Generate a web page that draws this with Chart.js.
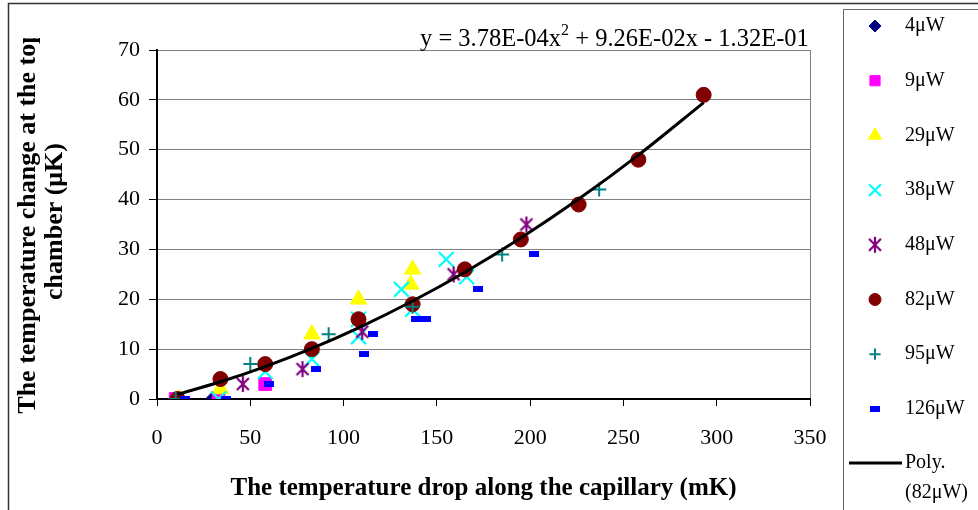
<!DOCTYPE html>
<html>
<head>
<meta charset="utf-8">
<script src="https://cdn.jsdelivr.net/npm/chart.js@4.4.1/dist/chart.umd.min.js"></script>
<style>
html, body { margin: 0; padding: 0; background: #fff; }
</style>
</head>
<body>
<canvas id="chart" width="978" height="510"></canvas>
<script>
// data
const seriesNames = ['4μW', '9μW', '29μW', '38μW', '48μW', '82μW', '95μW', '126μW'];

const x4 = [11, 30];
const y4 = [0, 0];
const x9 = [10, 33, 58];
const y9 = [0, 0, 3];
const x29 = [12, 34, 83, 108, 136, 137];
const y29 = [0, 2, 13, 20, 23, 26];
const x38 = [33, 58, 83, 108, 108, 131, 137, 155, 166];
const y38 = [0, 5.5, 8, 16, 12.5, 22, 18, 28, 24.5];
const x48 = [46, 78, 110, 159, 198];
const y48 = [3, 6, 13.5, 25, 35];
const x82 = [11, 34, 58, 83, 108, 137, 165, 195, 226, 258, 293];
const y82 = [0, 4, 7, 10, 16, 19, 26, 32, 39, 48, 61];
const x95 = [10, 50, 92, 137, 185, 237];
const y95 = [0, 7, 13, 18.5, 29, 42];
const x126 = [15, 37, 60, 85, 111, 116, 139, 144, 172, 202];
const y126 = [0, 0, 3, 6, 9, 13, 16, 16, 22, 29];

// trendline of the 82μW series, as printed on the chart
const polyCoef = [3.78e-4, 9.26e-2, -1.32e-1];
const polyLabel = ['Poly.', '(82μW)'];

const xTicks = [0, 50, 100, 150, 200, 250, 300, 350];
const yTicks = [0, 10, 20, 30, 40, 50, 60, 70];

const xTitle = 'The temperature drop along the capillary (mK)';
const yTitle = ['The temperature change at the top', 'chamber (μK)'];

const serif = "'Liberation Serif', 'Times New Roman', serif";

function pts(xs, ys) {
    return xs.map((x, i) => ({ x: x, y: ys[i] }));
}

// markers that chart.js does not have
function asteriskMarker(color) {
    const c = document.createElement('canvas');
    c.width = 18; c.height = 18;
    const g = c.getContext('2d');
    g.strokeStyle = color;
    g.lineWidth = 2.2;
    g.beginPath();
    g.moveTo(3, 3); g.lineTo(15, 15);
    g.moveTo(15, 3); g.lineTo(3, 15);
    g.moveTo(9, 1); g.lineTo(9, 17);
    g.stroke();
    return c;
}
function dashMarker(color) {
    const c = document.createElement('canvas');
    c.width = 10; c.height = 6;
    const g = c.getContext('2d');
    g.fillStyle = color;
    g.fillRect(0, 0, 10, 6);
    return c;
}

function eqNum(v) {
    // 3.78e-4 -> 3.78E-04
    return Math.abs(v).toExponential(2).toUpperCase().replace(/E([+-])(\d)$/, 'E$10$2');
}

const polyData = x82.map(x => ({ x: x, y: polyCoef[0] * x * x + polyCoef[1] * x + polyCoef[2] }));

const datasets = [
    { label: seriesNames[0], data: pts(x4, y4), pointStyle: 'rectRot', pointRadius: 7.5, backgroundColor: '#000080', borderColor: '#000080', borderWidth: 1, order: 8 },
    { label: seriesNames[1], data: pts(x9, y9), pointStyle: 'rect', pointRadius: 9, backgroundColor: '#FF00FF', borderColor: '#FF00FF', borderWidth: 1, order: 7 },
    { label: seriesNames[2], data: pts(x29, y29), pointStyle: 'triangle', pointRadius: 9.5, backgroundColor: '#FFFF00', borderColor: '#FFFF00', borderWidth: 1, order: 6 },
    { label: seriesNames[3], data: pts(x38, y38), pointStyle: 'crossRot', pointRadius: 10.5, backgroundColor: '#00FFFF', borderColor: '#00FFFF', borderWidth: 2.2, order: 5 },
    { label: seriesNames[4], data: pts(x48, y48), pointStyle: asteriskMarker('#800080'), pointRadius: 9, backgroundColor: '#800080', borderColor: '#800080', borderWidth: 2, order: 4 },
    { label: seriesNames[5], data: pts(x82, y82), pointStyle: 'circle', pointRadius: 7.5, backgroundColor: '#800000', borderColor: '#800000', borderWidth: 1, order: 3 },
    { label: seriesNames[6], data: pts(x95, y95), pointStyle: 'cross', pointRadius: 7, backgroundColor: '#008080', borderColor: '#008080', borderWidth: 2, order: 2 },
    { label: seriesNames[7], data: pts(x126, y126), pointStyle: dashMarker('#0000FF'), pointRadius: 5, backgroundColor: '#0000FF', borderColor: '#0000FF', borderWidth: 1, order: 1 },
    { label: polyLabel.join(' '), data: polyData, showLine: true, pointRadius: 0, borderColor: '#000000', borderWidth: 3, cubicInterpolationMode: 'monotone', order: 0 }
];

// frame round the chart and the legend box
const framePlugin = {
    id: 'frame',
    beforeDraw(chart) {
        const ctx = chart.ctx;
        ctx.save();
        ctx.fillStyle = '#fff';
        ctx.fillRect(0, 0, chart.width, chart.height);
        ctx.strokeStyle = '#333';
        ctx.lineWidth = 1.5;
        ctx.beginPath();
        ctx.moveTo(8.5, chart.height);
        ctx.lineTo(8.5, 3.5);
        ctx.lineTo(chart.width, 3.5);
        ctx.stroke();
        ctx.strokeStyle = '#666';
        ctx.lineWidth = 1;
        ctx.beginPath();
        ctx.moveTo(843.5, chart.height);
        ctx.lineTo(843.5, 9.5);
        ctx.lineTo(chart.width, 9.5);
        ctx.stroke();
        ctx.restore();
    }
};

// legend, equation and the clipped y title
const textPlugin = {
    id: 'texts',
    afterDraw(chart) {
        const ctx = chart.ctx;
        ctx.save();
        ctx.fillStyle = '#000';
        ctx.textBaseline = 'middle';
        ctx.textAlign = 'left';
        ctx.font = '20px ' + serif;
        chart.data.datasets.forEach((ds, i) => {
            const y = 26 + i * 54.7;
            if (i < seriesNames.length) {
                ctx.fillStyle = ds.backgroundColor;
                ctx.strokeStyle = ds.borderColor;
                ctx.lineWidth = ds.borderWidth;
                Chart.helpers.drawPoint(ctx, { pointStyle: ds.pointStyle, radius: ds.pointRadius * 0.8, rotation: 0, borderWidth: ds.borderWidth }, 875, y);
                ctx.fillStyle = '#000';
                ctx.fillText(ds.label, 905, y);
            } else {
                ctx.strokeStyle = '#000';
                ctx.lineWidth = 3;
                ctx.beginPath();
                ctx.moveTo(849, 463);
                ctx.lineTo(902, 463);
                ctx.stroke();
                ctx.fillText(polyLabel[0], 905, 463);
                ctx.fillText(polyLabel[1], 905, 493);
            }
        });

        // equation
        ctx.textBaseline = 'alphabetic';
        ctx.font = '24.5px ' + serif;
        let ex = 420;
        const eqA = 'y = ' + eqNum(polyCoef[0]) + 'x';
        const eqB = ' + ' + eqNum(polyCoef[1]) + 'x - ' + eqNum(polyCoef[2]);
        ctx.fillText(eqA, ex, 46);
        ex += ctx.measureText(eqA).width;
        ctx.font = '16px ' + serif;
        ctx.fillText('2', ex, 35);
        ex += ctx.measureText('2').width;
        ctx.font = '24.5px ' + serif;
        ctx.fillText(eqB, ex, 46);

        // y title, cut off at the top like the original
        ctx.beginPath();
        ctx.rect(0, 38, 150, 474);
        ctx.clip();
        ctx.font = 'bold 26px ' + serif;
        ctx.textAlign = 'center';
        ctx.textBaseline = 'middle';
        const cy = (chart.chartArea.top + chart.chartArea.bottom) / 2 - 3;
        [28, 55].forEach((lx, i) => {
            ctx.save();
            ctx.translate(lx, cy);
            ctx.rotate(-Math.PI / 2);
            ctx.fillText(yTitle[i], 0, 0);
            ctx.restore();
        });
        ctx.restore();
    }
};

new Chart(document.getElementById('chart'), {
    type: 'scatter',
    data: { datasets: datasets },
    options: {
        responsive: false,
        animation: false,
        layout: { padding: { left: 0, right: 168, top: 50, bottom: 0 } },
        plugins: { legend: { display: false }, tooltip: { enabled: false } },
        scales: {
            x: {
                type: 'linear',
                min: 0,
                max: 350,
                afterBuildTicks: s => { s.ticks = xTicks.map(v => ({ value: v })); },
                afterFit: s => { s.height = 111; },
                ticks: { font: { family: serif, size: 22 }, color: '#000', padding: 19, maxRotation: 0 },
                grid: {
                    color: c => (c.tick && c.tick.value === 350 ? '#808080' : 'rgba(0,0,0,0)'),
                    tickColor: '#000',
                    tickLength: 7
                },
                border: { color: '#000', width: 2 },
                title: {
                    display: true,
                    text: xTitle,
                    font: { family: serif, size: 25, weight: 'bold' },
                    color: '#000',
                    padding: { top: 0, bottom: 6 }
                }
            },
            y: {
                type: 'linear',
                min: 0,
                max: 70,
                afterBuildTicks: s => { s.ticks = yTicks.map(v => ({ value: v })); },
                afterFit: s => { s.width = 157; },
                ticks: { font: { family: serif, size: 22 }, color: '#000', padding: 9 },
                grid: {
                    color: c => (c.tick && c.tick.value === 0 ? 'rgba(0,0,0,0)' : '#808080'),
                    tickColor: '#000',
                    tickLength: 8
                },
                border: { color: '#000', width: 2 }
            }
        }
    },
    plugins: [framePlugin, textPlugin]
});
</script>
</body>
</html>
